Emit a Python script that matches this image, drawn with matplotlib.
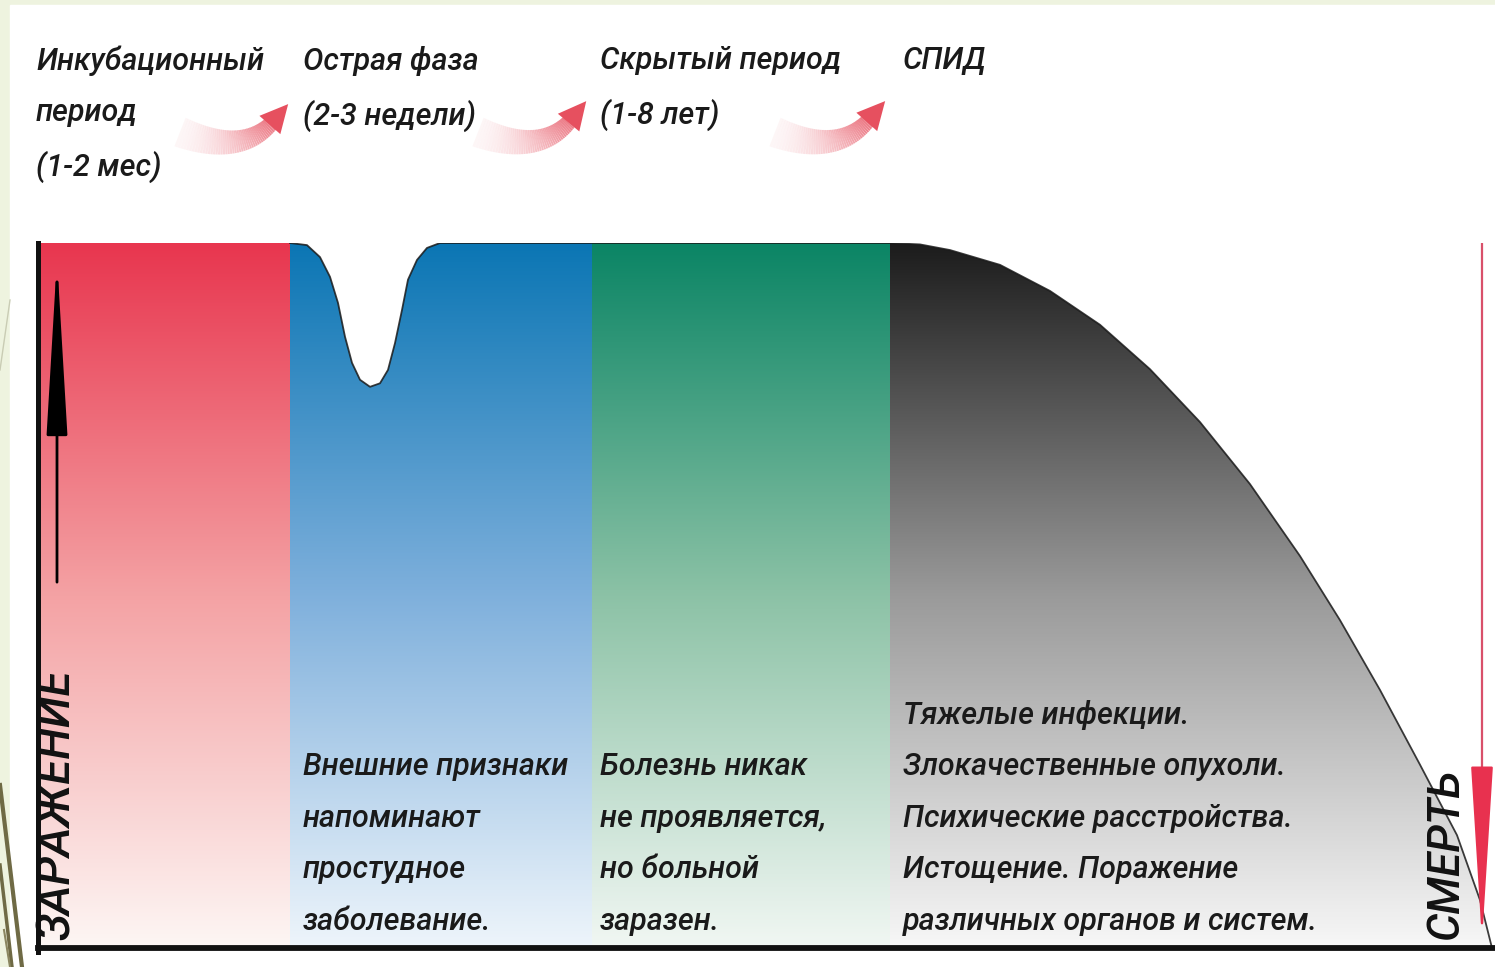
import numpy as np
import matplotlib.pyplot as plt
from matplotlib.colors import LinearSegmentedColormap
from matplotlib.patches import Polygon, FancyArrowPatch, Rectangle

plt.rcParams['font.family'] = ['Roboto', 'DejaVu Sans']

# стадии: границы по оси времени (условные единицы)
stage_edges = [0.0, 2.52, 5.54, 8.52, 14.54]
stage_top = ['#e8364f', '#0b76b4', '#0b8565', '#1c1c1c']
stage_mid = ['#f4a2a4', '#7fb0dc', '#8cc2a6', '#9a9a9a']
stage_bottom = ['#fdf6f4', '#eef5fb', '#f1f7f3', '#f7f7f7']

stage_titles = ['Инкубационный\nпериод\n(1-2 мес)', 'Острая фаза\n(2-3 недели)',
                'Скрытый период\n(1-8 лет)', 'СПИД']
stage_notes = ['', 'Внешние признаки\nнапоминают\nпростудное\nзаболевание.',
               'Болезнь никак\nне проявляется,\nно больной\nзаразен.',
               'Тяжелые инфекции.\nЗлокачественные опухоли.\nПсихические расстройства.\nИстощение. Поражение\nразличных органов и систем.']

# уровень иммунитета (1 = норма)
curve_x = [0.0, 2.52, 2.69, 2.82, 2.92, 3.00, 3.07, 3.14, 3.22, 3.32, 3.42, 3.50,
           3.57, 3.64, 3.70, 3.79, 3.89, 4.02,
           8.52, 8.82, 9.12, 9.62, 10.12, 10.62, 11.12, 11.62, 12.12, 12.62,
           13.02, 13.42, 13.82, 14.19, 14.42, 14.54]
curve_y = [1.0, 1.0, 0.997, 0.980, 0.952, 0.915, 0.867, 0.830, 0.806, 0.796, 0.801, 0.820,
           0.858, 0.905, 0.948, 0.976, 0.993, 1.0,
           1.0, 0.998, 0.990, 0.969, 0.932, 0.884, 0.821, 0.746, 0.658, 0.556,
           0.465, 0.366, 0.260, 0.160, 0.068, 0.0]

fig = plt.figure(figsize=(14.95, 9.67), dpi=100)
fig.patch.set_facecolor('#eef3df')

# фон слайда
bg = fig.add_axes([0, 0, 1, 1])
bg.set_xlim(0, 1495)
bg.set_ylim(967, 0)
bg.axis('off')
bg.add_patch(Rectangle((10, 5), 1485, 962, color='white', zorder=0))
bg.plot([0, 22], [785, 967], color='#6f6a45', lw=3, zorder=1)
bg.plot([0, 12], [865, 967], color='#6f6a45', lw=2.5, zorder=1)
bg.plot([4, 10], [930, 967], color='#8a8660', lw=1.5, zorder=1)
bg.plot([10, 0], [300, 370], color='#c9ccb4', lw=1, zorder=1)


def swoosh(p0, p1, p2, tip):
    t = np.linspace(0, 1, 50)
    px = (1 - t) ** 2 * p0[0] + 2 * (1 - t) * t * p1[0] + t ** 2 * p2[0]
    py = (1 - t) ** 2 * p0[1] + 2 * (1 - t) * t * p1[1] + t ** 2 * p2[1]
    for i in range(len(t) - 1):
        bg.plot(px[i:i + 2], py[i:i + 2], color='#e6505f', lw=22 - 12 * t[i],
                alpha=0.05 + 0.8 * t[i] ** 1.4, solid_capstyle='butt', zorder=2)
    bg.add_patch(FancyArrowPatch((px[-1], py[-1]), tip,
                                 arrowstyle='-|>,head_length=20,head_width=10',
                                 mutation_scale=1, color='#e6505f', lw=0, zorder=3))


swoosh((180, 132), (245, 158), (276, 118), (290, 102))
swoosh((478, 132), (543, 158), (574, 116), (588, 99))
swoosh((775, 132), (840, 158), (872, 116), (887, 99))

# основная диаграмма
ax = fig.add_axes([38 / 1495, 19 / 967, 1457 / 1495, 705 / 967])
ax.set_xlim(0, 14.57)
ax.set_ylim(0, 1)
ax.axis('off')
ax.patch.set_alpha(0)

area = Polygon(list(zip(curve_x, curve_y)) + [(curve_x[-1], 0), (0, 0)],
               closed=True, facecolor='none', edgecolor='none')
ax.add_patch(area)
grad = np.linspace(0, 1, 256).reshape(-1, 1)
for i in range(4):
    cmap = LinearSegmentedColormap.from_list(
        'st%d' % i, [stage_bottom[i], stage_mid[i], stage_top[i]])
    im = ax.imshow(grad, cmap=cmap, extent=(stage_edges[i], stage_edges[i + 1], 0, 1),
                   origin='lower', aspect='auto', zorder=1)
    im.set_clip_path(area)

ax.plot(curve_x[1:], curve_y[1:], color='#1a1a1a', lw=1.3, alpha=0.85, zorder=2)

# оси
ax.plot([0, 0], [-0.006, 1.0], color='#111111', lw=3.6, clip_on=False, zorder=4)
ax.plot([0, 14.57], [0, 0], color='#111111', lw=4.2, clip_on=False, zorder=4)

# стрелка "заражение"
ax.add_patch(FancyArrowPatch((0.19, 0.515), (0.19, 0.982),
                             arrowstyle='-|>,head_length=110,head_width=6.5',
                             mutation_scale=1, color='black', lw=2, zorder=3))
ax.text(0.19, 0.012, 'ЗАРАЖЕНИЕ', rotation=90, ha='center', va='bottom',
        fontsize=33, style='italic', fontweight='medium', color='#111111', zorder=5)

# стрелка "смерть"
ax.plot([14.44, 14.44], [0.24, 1.0], color='#d9506a', lw=1.6, zorder=3)
ax.add_patch(FancyArrowPatch((14.44, 0.23), (14.44, 0.006),
                             arrowstyle='-|>,head_length=112,head_width=7',
                             mutation_scale=1, color='#e8314f', lw=1.6, zorder=3))
ax.text(14.08, 0.012, 'СМЕРТЬ', rotation=90, ha='center', va='bottom',
        fontsize=32, style='italic', fontweight='medium', color='#111111', zorder=5)

# подписи стадий
title_dx = [-0.02, 0.13, 0.08, 0.13]
for i in range(4):
    ax.text(stage_edges[i] + title_dx[i], 1.28, stage_titles[i], ha='left', va='top',
            fontsize=22, style='italic', fontweight='medium', color='#1a1a1a',
            linespacing=1.95, clip_on=False, zorder=5)

for i in range(1, 4):
    ax.text(stage_edges[i] + title_dx[i], 0.017, stage_notes[i], ha='left', va='bottom',
            fontsize=22, style='italic', fontweight='medium', color='#1a1a1a',
            linespacing=1.98, zorder=5)

fig.savefig('out.png', dpi=100, facecolor=fig.get_facecolor())
